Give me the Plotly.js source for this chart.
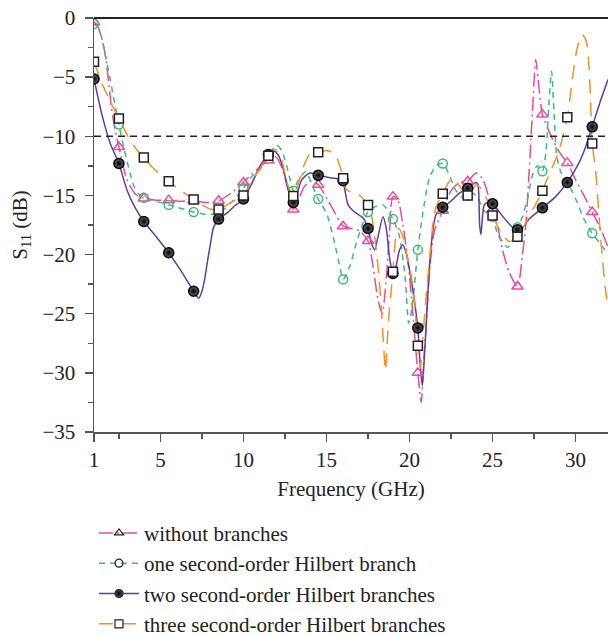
<!DOCTYPE html>
<html><head><meta charset="utf-8">
<script src="https://cdn.plot.ly/plotly-3.0.1.min.js"></script>
<style>html,body{margin:0;padding:0;background:#fff}#chart{width:608px;height:635px}</style>
</head><body><div id="chart"></div>
<script>
const seriesNames = ["without branches", "one second-order Hilbert branch", "two second-order Hilbert branches", "three second-order Hilbert branches"];
const markerFreq = [1, 2.5, 4, 5.5, 7, 8.5, 10, 11.5, 13, 14.5, 16, 17.5, 19, 20.5, 22, 23.5, 25, 26.5, 28, 29.5, 31];
const xTickVals = [1, 5, 10, 15, 20, 25, 30];
const threshold = -10;

const freqWithout = [1.0,1.2,1.45,1.65,1.85,2.05,2.25,2.5,2.75,3.0,3.5,4.0,4.75,5.5,6.25,7.0,7.75,8.5,9.25,10.0,10.5,11.0,11.5,11.9,12.3,12.7,13.0,13.3,13.6,14.0,14.5,15.0,15.4,16.0,16.5,17.0,17.5,17.8,18.1,18.35,18.6,18.8,19.0,19.3,19.6,19.9,20.2,20.5,20.7,20.85,21.0,21.2,21.5,22.0,22.5,23.0,23.5,24.0,24.4,24.8,25.0,25.3,25.6,26.0,26.5,26.8,27.0,27.2,27.4,27.6,27.8,28.0,28.5,29.0,29.5,30.0,30.5,31.0,31.5,31.95];
const s11Without = [-0.35,-0.6,-1.6,-2.9,-5.0,-7.6,-9.3,-10.9,-12.5,-13.7,-14.9,-15.25,-15.4,-15.4,-15.5,-15.45,-15.6,-15.45,-14.8,-13.9,-13.2,-12.6,-12.05,-11.7,-12.6,-14.6,-16.2,-15.5,-14.4,-13.8,-14.1,-15.2,-16.2,-17.6,-17.8,-18.0,-18.85,-21.0,-23.8,-25.0,-22.0,-18.0,-15.1,-15.4,-17.5,-20.5,-25.0,-30.0,-32.5,-29.0,-26.0,-21.5,-18.0,-16.3,-14.6,-13.9,-13.8,-13.1,-13.6,-15.3,-16.2,-17.6,-19.6,-21.5,-22.7,-20.0,-17.5,-13.0,-8.0,-3.5,-6.0,-8.15,-9.9,-11.3,-12.25,-13.7,-15.0,-16.4,-17.8,-19.4];

const freqOne = [1.0,1.2,1.45,1.65,1.95,2.15,2.5,2.85,3.15,3.4,3.7,4.0,4.75,5.5,6.25,7.0,7.75,8.5,9.25,10.0,10.5,11.0,11.5,12.0,12.3,12.6,12.8,13.0,13.3,13.75,14.1,14.5,15.0,15.4,15.8,16.0,16.4,16.8,17.2,17.5,18.0,18.4,19.0,19.4,19.75,19.95,20.15,20.5,20.8,21.2,21.6,22.0,22.4,22.8,23.2,23.5,23.8,24.1,24.5,25.0,25.3,25.6,25.9,26.2,26.5,26.8,27.1,27.4,27.7,28.0,28.2,28.4,28.55,28.7,28.85,29.1,29.5,29.8,30.1,30.5,31.0,31.5,31.95];
const s11One = [-0.5,-0.7,-1.6,-2.9,-5.0,-6.5,-9.0,-11.3,-13.0,-14.2,-14.9,-15.2,-15.5,-15.8,-16.1,-16.4,-16.6,-16.5,-15.6,-14.4,-13.4,-12.8,-11.6,-10.75,-11.2,-12.5,-13.6,-14.6,-13.7,-13.0,-14.0,-15.3,-16.5,-18.5,-21.0,-22.1,-21.0,-19.0,-17.3,-16.4,-15.9,-15.8,-17.0,-18.5,-22.2,-25.8,-24.5,-19.6,-16.5,-13.5,-12.5,-12.3,-13.3,-14.6,-15.2,-15.0,-14.8,-15.2,-16.3,-16.8,-18.3,-18.9,-19.4,-18.8,-17.7,-16.8,-15.3,-13.3,-12.5,-12.95,-11.5,-7.0,-4.5,-8.0,-11.5,-13.0,-13.9,-14.7,-15.6,-17.0,-18.2,-19.1,-20.0];

const freqTwo = [1.0,1.5,2.0,2.5,3.0,3.5,4.0,4.75,5.5,6.25,7.0,7.3,7.5,7.7,7.85,8.0,8.2,8.5,9.0,9.5,10.0,10.5,11.0,11.5,11.8,12.1,12.4,12.7,13.0,13.2,13.5,14.0,14.5,15.2,15.8,16.0,16.1,16.3,16.6,17.0,17.2,17.5,17.7,17.9,18.1,18.4,18.6,18.8,19.0,19.2,19.4,19.6,19.8,20.0,20.2,20.5,20.65,20.77,20.9,21.0,21.2,21.4,21.6,22.0,22.4,22.7,23.0,23.5,24.0,24.12,24.22,24.3,24.38,24.5,24.7,25.0,25.6,26.2,26.5,26.7,27.2,28.0,28.8,29.5,30.2,30.6,31.0,31.45,31.95];
const s11Two = [-5.15,-8.3,-10.7,-12.3,-14.6,-16.1,-17.2,-18.5,-19.85,-21.4,-23.1,-23.7,-23.1,-21.8,-20.4,-19.2,-17.7,-17.0,-16.5,-15.85,-15.3,-14.0,-12.5,-11.55,-11.25,-11.6,-12.8,-14.5,-15.6,-15.0,-13.7,-13.1,-13.3,-13.5,-13.6,-13.75,-14.5,-15.8,-16.3,-16.7,-16.9,-17.8,-19.0,-19.6,-18.5,-16.8,-17.8,-20.3,-21.6,-20.9,-19.6,-19.2,-19.9,-21.3,-23.0,-26.2,-29.5,-31.1,-28.5,-26.0,-21.0,-18.0,-16.6,-16.0,-15.6,-15.2,-14.8,-14.4,-13.9,-14.1,-17.5,-18.3,-17.0,-15.8,-15.6,-15.7,-16.75,-17.7,-17.9,-17.9,-17.0,-16.05,-15.1,-13.9,-12.25,-10.9,-9.2,-7.2,-5.2];

const freqThree = [1.0,1.5,2.0,2.5,3.0,3.5,4.0,4.5,5.0,5.5,6.0,6.5,7.0,7.5,8.0,8.5,9.0,9.5,10.0,10.5,11.0,11.5,11.9,12.3,12.6,12.9,13.0,13.3,13.6,14.0,14.5,15.0,15.5,15.8,16.0,16.2,16.6,17.0,17.5,17.7,17.9,18.1,18.3,18.45,18.55,18.65,18.8,19.0,19.15,19.35,19.6,19.9,20.1,20.3,20.5,20.65,20.8,21.0,21.2,21.5,21.8,22.0,22.4,22.7,23.0,23.5,23.8,24.0,24.3,24.7,25.0,25.5,26.0,26.5,27.0,27.5,28.0,28.2,28.6,29.0,29.5,29.8,30.1,30.4,30.65,30.8,30.9,31.0,31.2,31.5,31.8,31.95];
const s11Three = [-3.7,-5.6,-7.1,-8.5,-9.9,-11.0,-11.8,-12.6,-13.25,-13.8,-14.35,-14.85,-15.35,-15.8,-16.15,-16.2,-15.8,-15.4,-15.0,-13.8,-12.7,-11.65,-11.1,-12.0,-13.8,-14.9,-15.05,-14.0,-12.6,-11.5,-11.35,-11.2,-11.5,-12.5,-13.55,-14.5,-14.8,-15.0,-15.8,-16.6,-18.5,-21.0,-24.5,-28.0,-29.8,-27.5,-24.5,-21.45,-18.8,-17.8,-18.5,-20.5,-21.8,-24.0,-27.7,-29.6,-27.0,-23.5,-20.5,-16.5,-15.3,-14.86,-13.8,-13.6,-14.2,-15.0,-14.5,-14.1,-14.4,-15.5,-16.7,-18.1,-18.9,-18.5,-17.3,-16.0,-14.6,-13.9,-12.6,-11.2,-8.4,-5.2,-2.5,-1.4,-2.0,-4.0,-7.0,-10.6,-12.8,-18.5,-23.0,-24.5];

function pick(fx, fy) {
  const xs = [], ys = [];
  markerFreq.forEach(m => { const i = fx.indexOf(m); if (i >= 0) { xs.push(m); ys.push(fy[i]); } });
  return {xs, ys};
}

const FONT = "Liberation Serif, Times New Roman, serif";
const styles = [
  {x: freqWithout, y: s11Without, color: "#ec4b98", dash: "14px,4px,2px,4px", sym: "triangle-up-open", mline: "#ec4b98", msize: 10, legSym: "triangle-up-open", legColor: "#222"},
  {x: freqOne, y: s11One, color: "#3dbb7c", dash: "6px,5px", sym: "circle-open", mline: "#3dbb7c", msize: 9, legSym: "circle-open", legColor: "#222"},
  {x: freqTwo, y: s11Two, color: "#5b3fa5", dash: "solid", sym: "circle", mline: "#000", msize: 10, legSym: "circle", legColor: "#555"},
  {x: freqThree, y: s11Three, color: "#f7901e", dash: "14px,9px", sym: "square", mline: "#222", msize: 9, legSym: "square-open", legColor: "#222"}
];

const traces = [];
styles.forEach((s) => {
  traces.push({x: s.x, y: s.y, type: "scatter", mode: "lines", showlegend: false, hoverinfo: "skip",
    line: {color: s.color, width: 1.5, dash: s.dash, shape: "spline", smoothing: 0.7}});
});
styles.forEach((s) => {
  const p = pick(s.x, s.y);
  const mk = {symbol: s.sym, size: s.msize, line: {color: s.mline, width: 1.5}};
  if (s.sym === "circle") { mk.color = "#6a6a6a"; mk.gradient = {type: "radial", color: "#000"}; }
  else if (s.sym === "square") { mk.color = "#fff"; }
  else { mk.color = s.mline; }
  traces.push({x: p.xs, y: p.ys, type: "scatter", mode: "markers", showlegend: false, hoverinfo: "skip", marker: mk});
});
styles.forEach((s, k) => {
  const mk = {symbol: s.legSym, size: 8, color: s.legColor, line: {color: "#222", width: 1.2}};
  if (s.legSym === "circle") mk.gradient = {type: "radial", color: "#000"};
  traces.push({x: [null], y: [null], type: "scatter", mode: "lines+markers", name: seriesNames[k], legendgroup: "g" + k,
    line: {color: s.color, width: 1.5, dash: s.dash}, marker: mk});
});

const layout = {
  width: 608, height: 635,
  margin: {l: 94, r: 0, t: 18, b: 203, autoexpand: false},
  paper_bgcolor: "#fff", plot_bgcolor: "#fff",
  font: {family: FONT, size: 21, color: "#222"},
  showlegend: true,
  legend: {x: 0.0, xanchor: "left", y: -0.195, yanchor: "top", orientation: "v", bgcolor: "rgba(0,0,0,0)",
    font: {family: FONT, size: 21, color: "#222"}, tracegroupgap: 0, itemwidth: 40},
  xaxis: {range: [1, 31.95], tickmode: "array", tickvals: xTickVals, ticktext: xTickVals.map(String),
    ticks: "outside", ticklen: 8, tickwidth: 1.5, tickcolor: "#555",
    showline: true, linecolor: "#555", linewidth: 1.5, showgrid: false, zeroline: false,
    minor: {tickmode: "array", tickvals: [2.5, 7.5, 12.5, 17.5, 22.5, 27.5], ticks: "outside", ticklen: 5, tickwidth: 1.5, tickcolor: "#555"},
    tickfont: {family: FONT, size: 21, color: "#222"},
    title: {text: "Frequency (GHz)", font: {family: FONT, size: 21, color: "#222"}, standoff: 10}},
  yaxis: {range: [-35, 0], tickmode: "linear", tick0: 0, dtick: 5,
    ticks: "outside", ticklen: 8, tickwidth: 1.5, tickcolor: "#555", ticklabelstandoff: 5,
    showline: true, linecolor: "#555", linewidth: 1.5, showgrid: false, zeroline: false,
    minor: {dtick: 2.5, tick0: 0, ticks: "outside", ticklen: 5, tickwidth: 1.5, tickcolor: "#555"},
    tickfont: {family: FONT, size: 21, color: "#222"},
    title: {text: "S<sub>11</sub> (dB)", font: {family: FONT, size: 21, color: "#222"}, standoff: 9}},
  shapes: [
    {type: "line", xref: "paper", yref: "y", x0: 0, x1: 1, y0: threshold, y1: threshold, line: {color: "#222", width: 1.5, dash: "7px,5px"}},
    {type: "line", xref: "paper", yref: "paper", x0: 0, x1: 1, y0: 1, y1: 1, line: {color: "#222", width: 2}}
  ]
};

Plotly.newPlot("chart", traces, layout, {displayModeBar: false, staticPlot: true});
</script>
</body></html>
